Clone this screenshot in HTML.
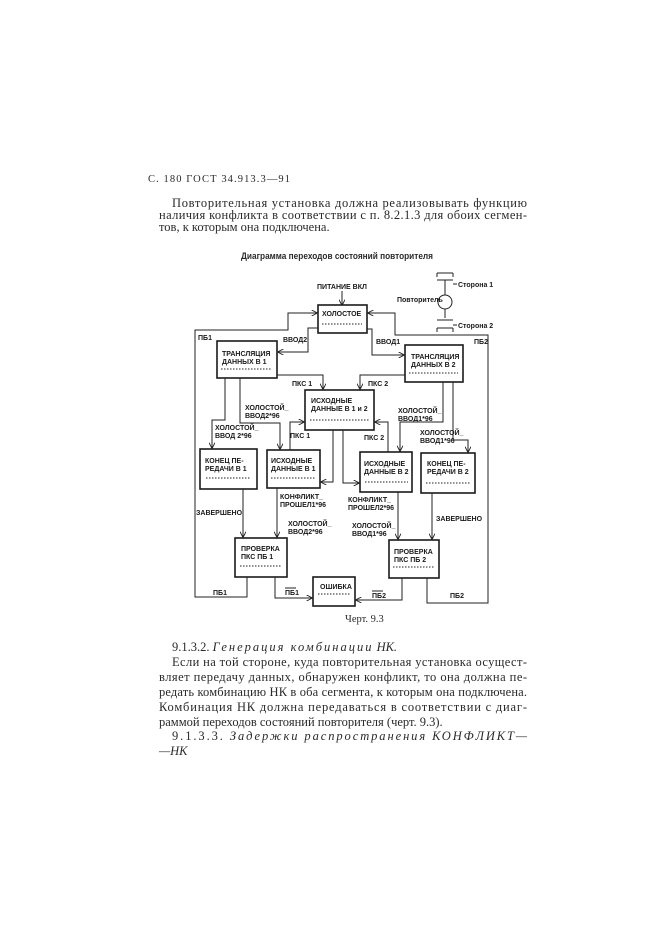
<!DOCTYPE html>
<html><head><meta charset="utf-8"><style>
html,body{margin:0;padding:0;background:#fff;}
svg{display:block}
.t{font-family:"Liberation Serif",serif;font-size:12.5px;fill:#2a2a2a}
.d{font-family:"Liberation Sans",sans-serif;font-size:7px;fill:#1a1a1a;font-weight:bold}
.b{fill:none;stroke:#1a1a1a;stroke-width:1.6}
.l{fill:none;stroke:#222;stroke-width:1}
.dot{stroke:#222;stroke-width:1;stroke-dasharray:1.5 1.5;fill:none}
</style></head><body>
<svg width="661" height="935" viewBox="0 0 661 935">
<defs><marker id="a" viewBox="0 0 10 10" refX="9" refY="5" markerWidth="6" markerHeight="6" orient="auto"><path d="M0,0 L10,5 L0,10" fill="none" stroke="#222" stroke-width="1.5"/></marker></defs>
<g class="t">
<text x="148" y="182" font-size="10.5" textLength="142" lengthAdjust="spacing">С. 180   ГОСТ 34.913.3—91</text>
<text x="172" y="207" textLength="355" lengthAdjust="spacing">Повторительная установка должна реализовывать функцию</text>
<text x="159" y="219" textLength="368" lengthAdjust="spacing">наличия конфликта в соответствии с п. 8.2.1.3 для обоих сегмен-</text>
<text x="159" y="231">тов, к которым она подключена.</text>
<text x="241" y="259" font-size="9.5" font-weight="bold" font-family="Liberation Sans" textLength="192" lengthAdjust="spacingAndGlyphs">Диаграмма переходов состояний повторителя</text>
<text x="345" y="622" font-size="10.5">Черт. 9.3</text>
<text x="172" y="651">9.1.3.2. <tspan font-style="italic" letter-spacing="2">Генерация комбинации</tspan> <tspan font-style="italic">НК.</tspan></text>
<text x="172" y="666" textLength="355" lengthAdjust="spacing">Если на той стороне, куда повторительная установка осущест-</text>
<text x="159" y="681" textLength="368" lengthAdjust="spacing">вляет передачу данных, обнаружен конфликт, то она должна пе-</text>
<text x="159" y="696" textLength="368" lengthAdjust="spacing">редать комбинацию НК в оба сегмента, к которым она подключена.</text>
<text x="159" y="711" textLength="368" lengthAdjust="spacing">Комбинация НК должна передаваться в соответствии с диаг-</text>
<text x="159" y="726">раммой переходов состояний повторителя (черт. 9.3).</text>
<text x="172" y="740" textLength="355" lengthAdjust="spacing">9.1.3.3. <tspan font-style="italic">Задержки распространения КОНФЛИКТ—</tspan></text>
<text x="159" y="755" font-style="italic">—НК</text>
</g>
<!-- legend -->
<g class="l">
<path d="M437,273 H453 M437,273 V277 M453,273 V277 M437,280 H453 M445,280 V295"/>
<circle cx="445" cy="302" r="7"/>
<path d="M445,309 V318 M437,320 H453 M437,328 H453 M437,328 V332 M453,328 V332 M453,284 H457 M453,325 H457"/>
</g>
<g class="d" font-size="6" font-weight="normal">
<text x="458" y="287">Сторона 1</text><text x="397" y="302">Повторитель</text><text x="458" y="328">Сторона 2</text>
</g>
<!-- boxes -->
<g class="b">
<rect x="318" y="305" width="49" height="28"/>
<rect x="217" y="341" width="60" height="37"/>
<rect x="405" y="345" width="58" height="37"/>
<rect x="305" y="390" width="69" height="40"/>
<rect x="200" y="449" width="57" height="40"/>
<rect x="267" y="450" width="53" height="38"/>
<rect x="360" y="452" width="52" height="40"/>
<rect x="421" y="453" width="54" height="40"/>
<rect x="235" y="538" width="52" height="39"/>
<rect x="389" y="540" width="50" height="38"/>
<rect x="313" y="577" width="42" height="29"/>
</g>
<g class="dot">
<path d="M322,324 H362 M221,369 H272 M409,373 H458 M310,420 H370 M206,478 H251 M271,478 H316 M365,482 H408 M426,483 H470 M240,566 H282 M393,567 H434 M318,594 H350"/>
</g>
<g class="d">
<text x="317" y="289">ПИТАНИЕ ВКЛ</text>
<text x="322" y="316">ХОЛОСТОЕ</text>
<text x="222" y="356">ТРАНСЛЯЦИЯ</text><text x="222" y="364">ДАННЫХ В 1</text>
<text x="411" y="359">ТРАНСЛЯЦИЯ</text><text x="411" y="367">ДАННЫХ В 2</text>
<text x="311" y="403">ИСХОДНЫЕ</text><text x="311" y="411">ДАННЫЕ В 1 и 2</text>
<text x="205" y="463">КОНЕЦ ПЕ-</text><text x="205" y="471">РЕДАЧИ В 1</text>
<text x="271" y="463">ИСХОДНЫЕ</text><text x="271" y="471">ДАННЫЕ В 1</text>
<text x="364" y="466">ИСХОДНЫЕ</text><text x="364" y="474">ДАННЫЕ В 2</text>
<text x="427" y="466">КОНЕЦ ПЕ-</text><text x="427" y="474">РЕДАЧИ В 2</text>
<text x="241" y="551">ПРОВЕРКА</text><text x="241" y="559">ПКС ПБ 1</text>
<text x="394" y="554">ПРОВЕРКА</text><text x="394" y="562">ПКС ПБ 2</text>
<text x="320" y="589">ОШИБКА</text>
<text x="198" y="340">ПБ1</text><text x="474" y="344">ПБ2</text>
<text x="283" y="342">ВВОД2</text><text x="376" y="344">ВВОД1</text>
<text x="292" y="386">ПКС 1</text><text x="368" y="386">ПКС 2</text>
<text x="245" y="410">ХОЛОСТОЙ_</text><text x="245" y="418">ВВОД2*96</text>
<text x="215" y="430">ХОЛОСТОЙ_</text><text x="215" y="438">ВВОД 2*96</text>
<text x="290" y="438">ПКС 1</text><text x="364" y="440">ПКС 2</text>
<text x="398" y="413">ХОЛОСТОЙ_</text><text x="398" y="421">ВВОД1*96</text>
<text x="420" y="435">ХОЛОСТОЙ_</text><text x="420" y="443">ВВОД1*96</text>
<text x="280" y="499">КОНФЛИКТ_</text><text x="280" y="507">ПРОШЕЛ1*96</text>
<text x="348" y="502">КОНФЛИКТ_</text><text x="348" y="510">ПРОШЕЛ2*96</text>
<text x="196" y="515">ЗАВЕРШЕНО</text><text x="436" y="521">ЗАВЕРШЕНО</text>
<text x="288" y="526">ХОЛОСТОЙ_</text><text x="288" y="534">ВВОД2*96</text>
<text x="352" y="528">ХОЛОСТОЙ_</text><text x="352" y="536">ВВОД1*96</text>
<text x="213" y="595">ПБ1</text><text x="285" y="595">ПБ1</text>
<text x="372" y="598">ПБ2</text><text x="450" y="598">ПБ2</text>
</g>
<g class="l"><path d="M285,588 H296 M372,591 H383"/></g>
<!-- connectors -->
<g class="l" marker-end="url(#a)">
<path d="M342,291 V305"/>
<path d="M247,577 V597 H195 V330 H288 V313 H317"/>
<path d="M427,578 V603 H488 V335 H395 V313 H368"/>
<path d="M318,328 H308 V352 H278"/>
<path d="M367,329 H372 V355 H404"/>
<path d="M277,375 H323 V389"/>
<path d="M405,375 H360 V389"/>
<path d="M240,378 V423 H280 V449"/>
<path d="M225,378 V420 H212 V448"/>
<path d="M443,382 V422 H400 V451"/>
<path d="M453,382 V440 H468 V452"/>
<path d="M290,450 V422 H304"/>
<path d="M388,452 V422 H375"/>
<path d="M333,430 V482 H321"/>
<path d="M343,430 V483 H359"/>
<path d="M243,489 V537"/>
<path d="M277,488 V537"/>
<path d="M398,492 V539"/>
<path d="M432,493 V539"/>
<path d="M275,577 V598 H312"/>
<path d="M402,578 V600 H356"/>
</g>
</svg>
</body></html>
